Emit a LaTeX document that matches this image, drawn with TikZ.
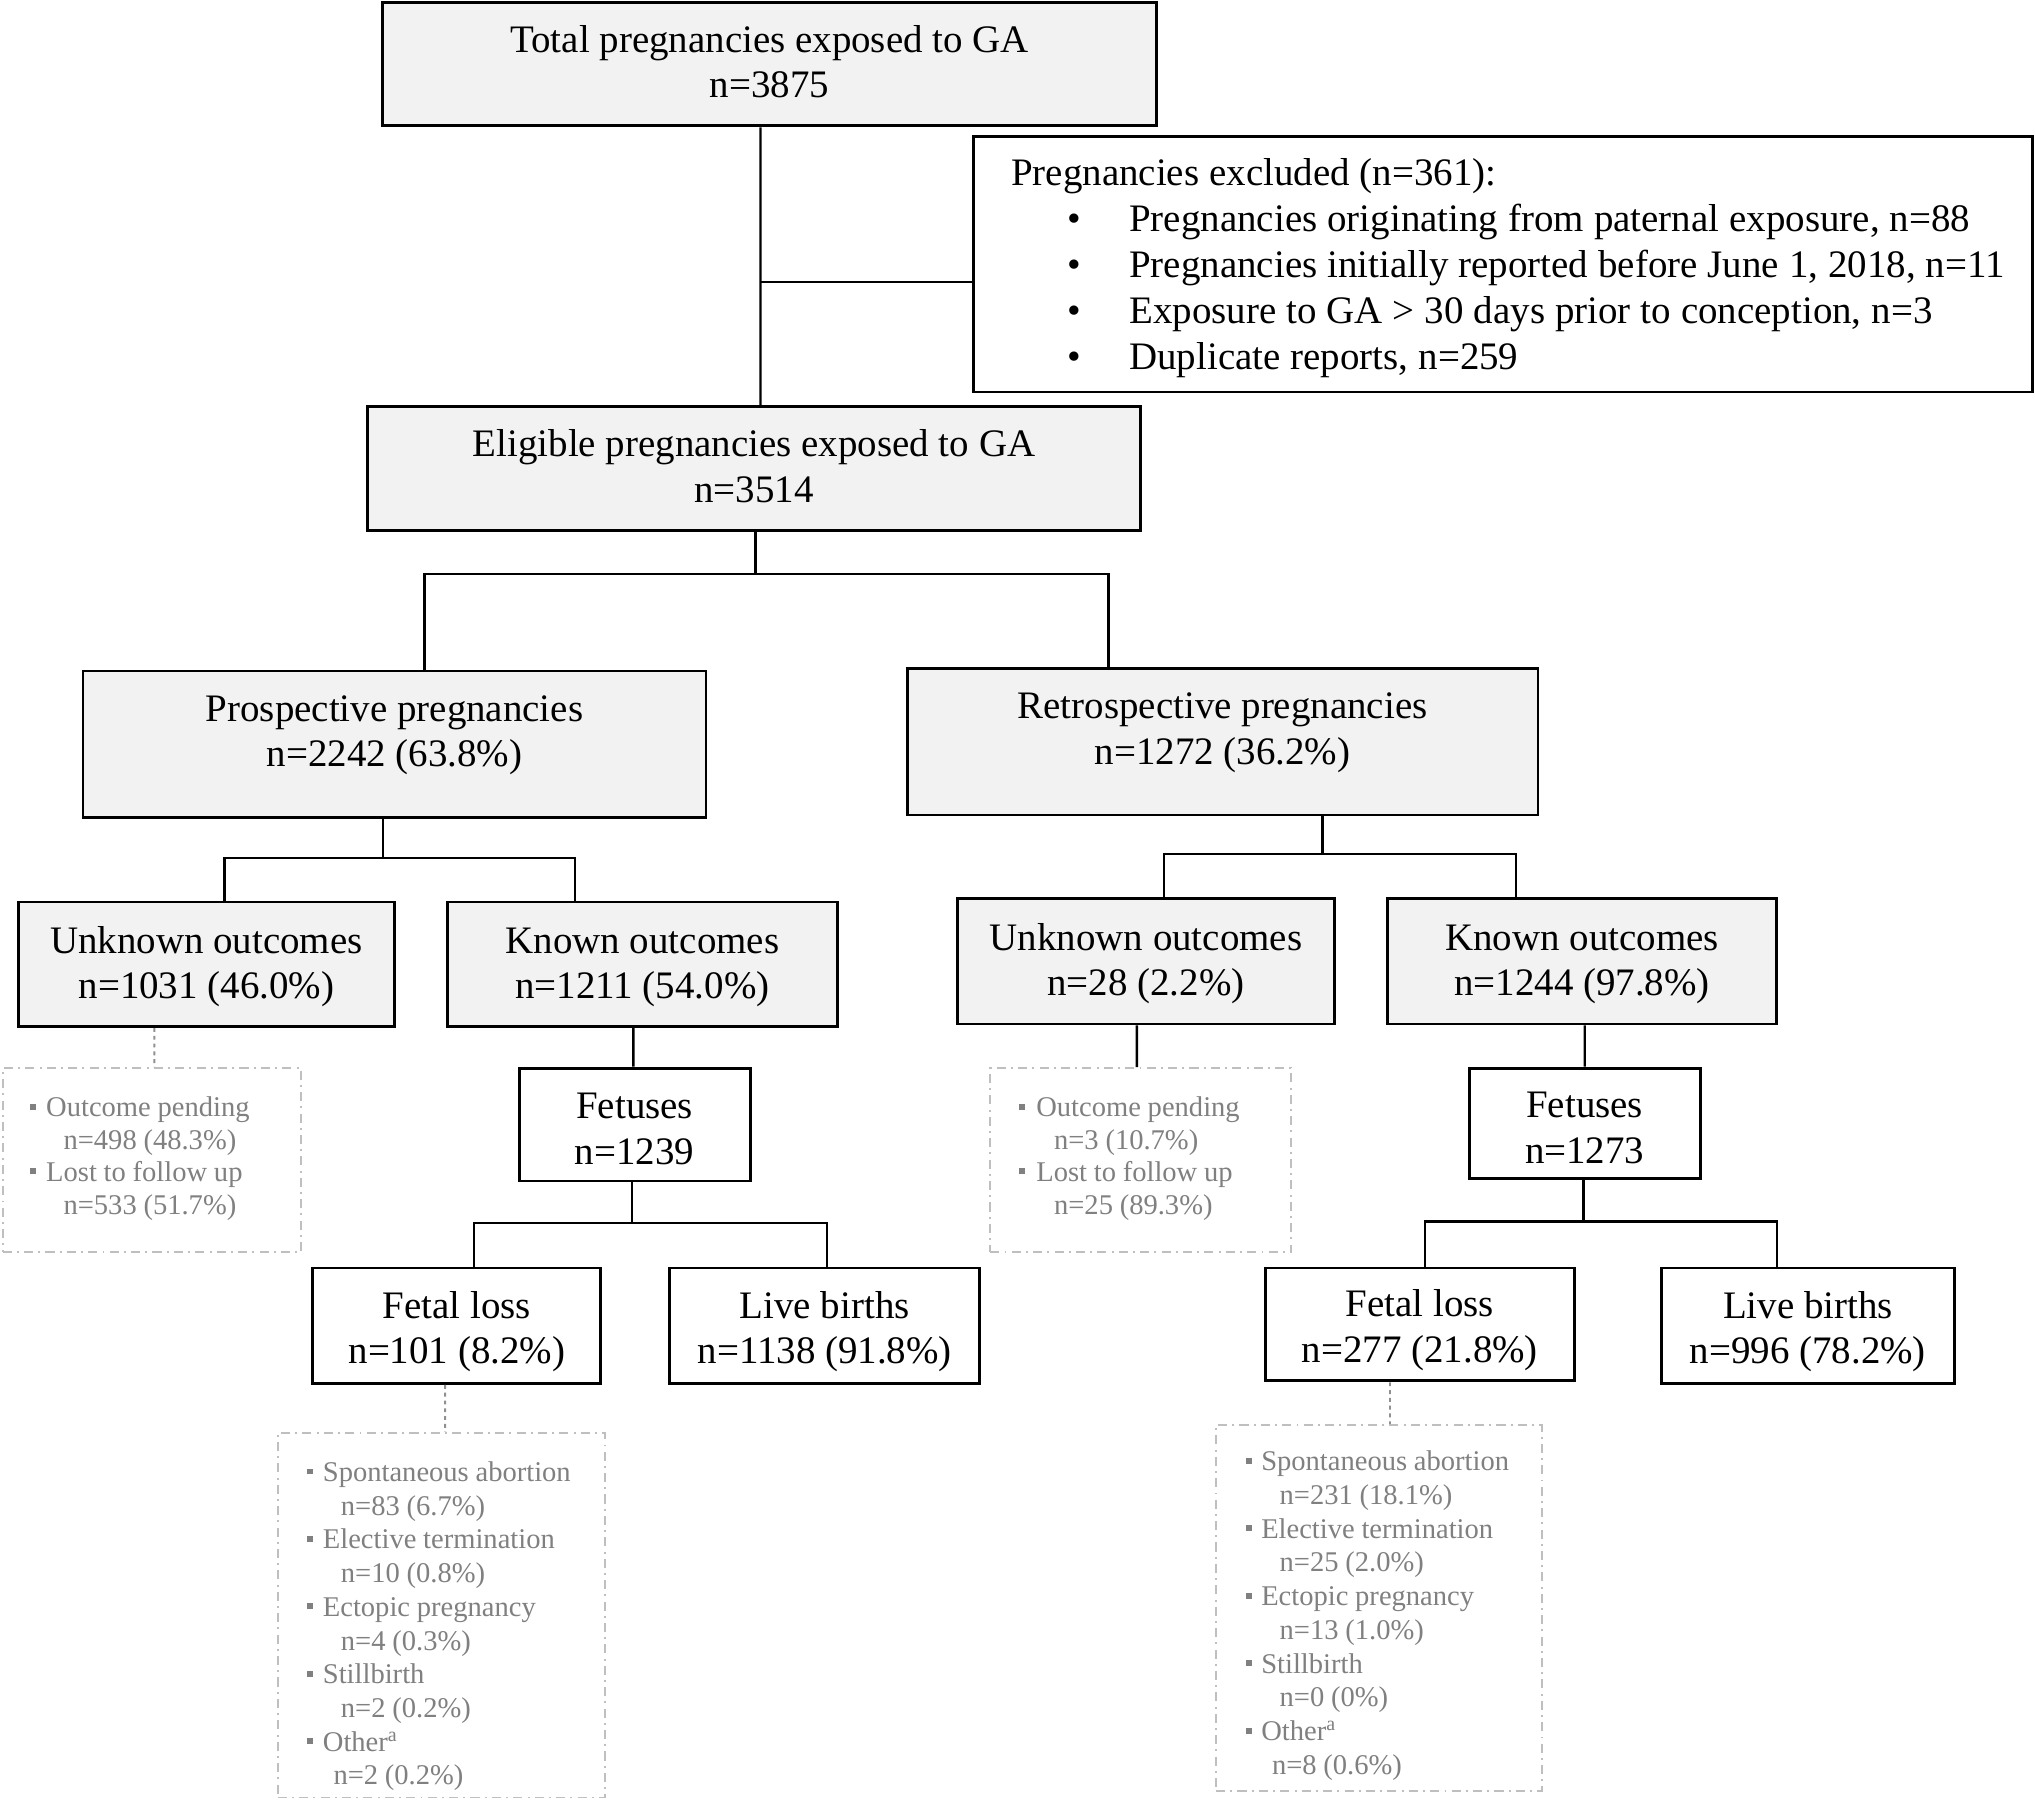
\documentclass[tikz,border=0pt]{standalone}
\usepackage{fontspec}
\setmainfont{Liberation Serif}
\usepackage{xcolor}
\frenchspacing
\definecolor{boxgray}{HTML}{F2F2F2}
\definecolor{dashgray}{HTML}{BFBFBF}
\definecolor{textgray}{HTML}{808080}
\definecolor{dotgray}{HTML}{909090}
\newcommand{\mainfs}{\fontsize{30bp}{35bp}\selectfont}
\newcommand{\excfs}{\fontsize{30bp}{35.5bp}\selectfont}
\newcommand{\smallfs}{\fontsize{22bp}{25bp}\selectfont}
\newcommand{\smallfsb}{\fontsize{22bp}{25.95bp}\selectfont}
\newcommand{\smallfsc}{\fontsize{22bp}{26bp}\selectfont}
\newcommand{\gsp}{\spaceskip=5.2bp\relax}
\newcommand{\esp}{\spaceskip=7.7bp\relax}
\newcommand{\sqb}{\textcolor{textgray}{\rule[5.5bp]{4.6bp}{4.6bp}}}
\newcommand{\dn}[1]{\rule[-#1bp]{0pt}{#1bp}}
\newcommand{\up}[1]{\rule{0pt}{#1bp}}
\begin{document}
\begin{tikzpicture}[x=1bp,y=-1bp,
  box/.style={draw=black, line width=2.2bp, fill=white, align=center, inner sep=0pt, font=\mainfs},
  graybox/.style={box, fill=boxgray},
  dbox/.style={draw=dashgray, line width=1.5bp, dash pattern=on 7bp off 4bp on 1.5bp off 4bp, inner sep=0pt},
  conn/.style={line width=1.8bp, draw=black},
  dotconn/.style={line width=1.5bp, draw=dotgray, dash pattern=on 3bp off 3bp},
  gtext/.style={text=textgray, font=\smallfs, align=left, inner sep=0pt, anchor=base west, text width=#1},
  gtext/.default=230bp]
\fill[white] (0,0) rectangle (1568,1387);
\useasboundingbox (0,0) rectangle (1568,1387);

% main boxes
\node[graybox, minimum width=596bp, minimum height=95bp] (total) at (593,49.5) {Total pregnancies exposed to GA\\n=3875\dn{4}};
\node[box, minimum width=816bp, minimum height=197bp] (excl) at (1158,203.5) {};
\node[font=\excfs, align=left, inner sep=0pt, anchor=base west, text width=790bp] (exctext) at (779,143)
 {\esp Pregnancies excluded (n=361):\\
  \hspace*{43bp}\makebox[48bp][l]{•}Pregnancies originating from paternal exposure, n=88\\
  \hspace*{43bp}\makebox[48bp][l]{•}Pregnancies initially reported before June 1, 2018, n=11\\
  \hspace*{43bp}\makebox[48bp][l]{•}Exposure to GA > 30 days prior to conception, n=3\\
  \hspace*{43bp}\makebox[48bp][l]{•}Duplicate reports, n=259};
\node[graybox, minimum width=596bp, minimum height=96bp] (elig) at (581,361) {Eligible pregnancies exposed to GA\\n=3514\dn{4}};
\node[graybox, minimum width=480bp, minimum height=113bp] (prosp) at (304,573.5) {Prospective pregnancies\\n=2242 (63.8\%)\dn{20}};
\node[graybox, minimum width=486bp, minimum height=113bp] (retro) at (942,571.5) {Retrospective pregnancies\\n=1272 (36.2\%)\dn{20}};
\node[graybox, minimum width=290bp, minimum height=96bp] (unk1) at (159,743) {\up{24.5}Unknown outcomes\\n=1031 (46.0\%)};
\node[graybox, minimum width=300bp, minimum height=96bp] (kn1) at (495,743) {\up{24.5}Known outcomes\\n=1211 (54.0\%)};
\node[graybox, minimum width=290bp, minimum height=97bp] (unk2) at (883,740.5) {\up{24.5}Unknown outcomes\\n=28 (2.2\%)};
\node[graybox, minimum width=300bp, minimum height=97bp] (kn2) at (1219,740.5) {\up{24.5}Known outcomes\\n=1244 (97.8\%)};
\node[box, minimum width=178bp, minimum height=87bp] (fet1) at (489,866.5) {\up{26.5}Fetuses\\n=1239};
\node[box, minimum width=178bp, minimum height=85bp] (fet2) at (1221,865.5) {\up{26.5}Fetuses\\n=1273};
\node[box, minimum width=222bp, minimum height=89bp] (fl1) at (352,1021.5) {\up{29.5}Fetal loss\\n=101 (8.2\%)};
\node[box, minimum width=239bp, minimum height=89bp] (lb1) at (635.5,1021.5) {\up{29.5}Live births\\n=1138 (91.8\%)};
\node[box, minimum width=238bp, minimum height=87bp] (fl2) at (1094,1020.5) {\up{29.5}Fetal loss\\n=277 (21.8\%)};
\node[box, minimum width=226bp, minimum height=89bp] (lb2) at (1393,1021.5) {\up{29.5}Live births\\n=996 (78.2\%)};

% dashed detail boxes
\node[dbox, minimum width=230bp, minimum height=142bp] (db1) at (117,894) {};
\node[dbox, minimum width=232bp, minimum height=142bp] (db2) at (879,894) {};
\node[dbox, minimum width=252bp, minimum height=281bp] (db3) at (340,1244.5) {};
\node[dbox, minimum width=251bp, minimum height=282bp] (db4) at (1062.5,1239) {};

\node[gtext] (t1) at (23,860.4) {\gsp
  \makebox[12.4bp][l]{\sqb}Outcome pending\\
  \hspace*{25.8bp}n=498 (48.3\%)\\
  \makebox[12.4bp][l]{\sqb}Lost to follow up\\
  \hspace*{25.8bp}n=533 (51.7\%)};
\node[gtext] (t2) at (785,860.4) {\gsp
  \makebox[13.3bp][l]{\sqb}Outcome pending\\
  \hspace*{27bp}n=3 (10.7\%)\\
  \makebox[13.3bp][l]{\sqb}Lost to follow up\\
  \hspace*{27bp}n=25 (89.3\%)};
\node[gtext, font=\smallfsb] (t3) at (236.3,1141.6) {\gsp
  \makebox[12.3bp][l]{\sqb}Spontaneous abortion\\
  \hspace*{26.2bp}n=83 (6.7\%)\\
  \makebox[12.3bp][l]{\sqb}Elective termination\\
  \hspace*{26.2bp}n=10 (0.8\%)\\
  \makebox[12.3bp][l]{\sqb}Ectopic pregnancy\\
  \hspace*{26.2bp}n=4 (0.3\%)\\
  \makebox[12.3bp][l]{\sqb}Stillbirth\\
  \hspace*{26.2bp}n=2 (0.2\%)\\
  \makebox[12.3bp][l]{\sqb}Other\textsuperscript{a}\\
  \hspace*{20.5bp}n=2 (0.2\%)};
\node[gtext, font=\smallfsc] (t4) at (959.8,1133.2) {\gsp
  \makebox[11.8bp][l]{\sqb}Spontaneous abortion\\
  \hspace*{26bp}n=231 (18.1\%)\\
  \makebox[11.8bp][l]{\sqb}Elective termination\\
  \hspace*{26bp}n=25 (2.0\%)\\
  \makebox[11.8bp][l]{\sqb}Ectopic pregnancy\\
  \hspace*{26bp}n=13 (1.0\%)\\
  \makebox[11.8bp][l]{\sqb}Stillbirth\\
  \hspace*{26bp}n=0 (0\%)\\
  \makebox[11.8bp][l]{\sqb}Other\textsuperscript{a}\\
  \hspace*{20.1bp}n=8 (0.6\%)};

% connectors
\draw[conn] ([xshift=-7bp]total.south) -- ([xshift=5bp]elig.north);
\path ([xshift=-7bp]total.south) ++(0,119) coordinate (jx);
\draw[conn] (jx) -- (jx -| excl.west);
\draw[conn] ([xshift=1bp]elig.south) -- ++(0,32) coordinate (j2);
\draw[conn] ([xshift=23bp]prosp.north) |- (j2) -| ([xshift=-88bp]retro.north);
\draw[conn] ([xshift=-9bp]prosp.south) -- ++(0,30) coordinate (j3);
\draw[conn] ([xshift=14bp]unk1.north) |- (j3) -| ([xshift=-52bp]kn1.north);
\draw[conn] ([xshift=77bp]retro.south) -- ++(0,29) coordinate (j4);
\draw[conn] ([xshift=14bp]unk2.north) |- (j4) -| ([xshift=-51bp]kn2.north);
\draw[conn] ([xshift=-7bp]kn1.south) -- ([xshift=-1bp]fet1.north);
\draw[conn] ([xshift=-2bp]fet1.south) -- ++(0,31) coordinate (j5);
\draw[conn] ([xshift=13bp]fl1.north) |- (j5) -| ([xshift=1.5bp]lb1.north);
\draw[conn] ([xshift=2bp]kn2.south) -- (fet2.north);
\draw[conn] ([xshift=-1bp]fet2.south) -- ++(0,32) coordinate (j6);
\draw[conn] ([xshift=4bp]fl2.north) |- (j6) -| ([xshift=-24bp]lb2.north);
\draw[dotconn] ([xshift=-40bp]unk1.south) -- ([xshift=2bp]db1.north);
\draw[conn] ([xshift=-7bp]unk2.south) -- ([xshift=-3bp]db2.north);
\draw[dotconn] ([xshift=-9bp]fl1.south) -- ([xshift=3bp]db3.north);
\draw[dotconn] ([xshift=-23bp]fl2.south) -- ([xshift=8.5bp]db4.north);
\end{tikzpicture}
\end{document}
